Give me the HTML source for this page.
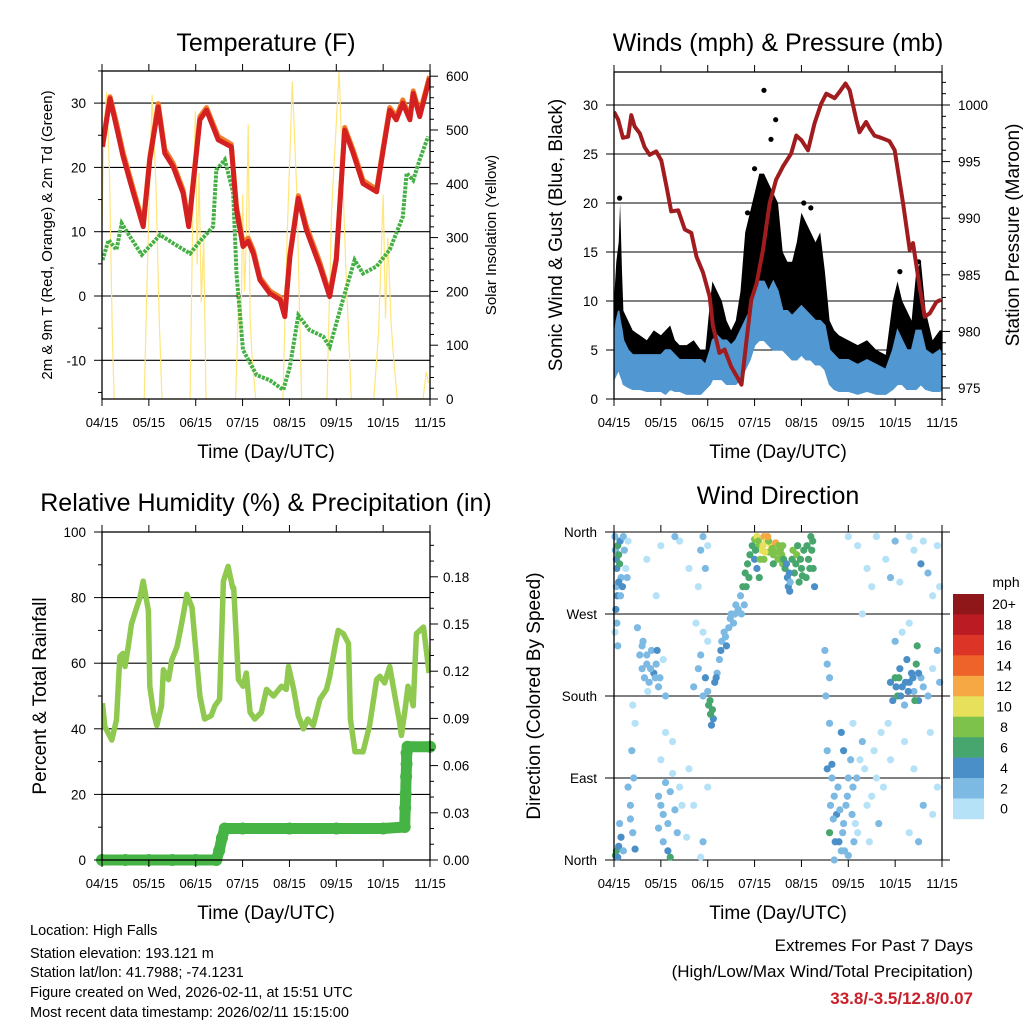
<!DOCTYPE html>
<html><head><meta charset="utf-8"><title>Station Meteogram</title>
<style>
html,body{margin:0;padding:0;background:#fff;}
svg{display:block;font-family:"Liberation Sans",Arial,sans-serif;}
</style></head>
<body>
<svg id="chart" width="1024" height="1024" viewBox="0 0 1024 1024" xmlns="http://www.w3.org/2000/svg">
<rect x="0" y="0" width="1024" height="1024" fill="#fff"/>
<text x="266" y="51" font-size="25" text-anchor="middle">Temperature (F)</text>
<text x="778" y="51" font-size="25" text-anchor="middle">Winds (mph) &amp; Pressure (mb)</text>
<text x="266" y="511" font-size="25" text-anchor="middle">Relative Humidity (%) &amp; Precipitation (in)</text>
<text x="778" y="504" font-size="25" text-anchor="middle">Wind Direction</text>
<text x="266" y="458" font-size="19" text-anchor="middle">Time (Day/UTC)</text>
<text x="778" y="458" font-size="19" text-anchor="middle">Time (Day/UTC)</text>
<text x="266" y="919" font-size="19" text-anchor="middle">Time (Day/UTC)</text>
<text x="778" y="919" font-size="19" text-anchor="middle">Time (Day/UTC)</text>
<text transform="translate(52,235) rotate(-90)" font-size="15" text-anchor="middle">2m &amp; 9m T (Red, Orange) &amp; 2m Td (Green)</text>
<text transform="translate(496,235) rotate(-90)" font-size="15" text-anchor="middle">Solar Insolation (Yellow)</text>
<text transform="translate(562,235) rotate(-90)" font-size="19" text-anchor="middle">Sonic Wind &amp; Gust (Blue, Black)</text>
<text transform="translate(1019,235) rotate(-90)" font-size="19" text-anchor="middle">Station Pressure (Maroon)</text>
<text transform="translate(46,696) rotate(-90)" font-size="19" text-anchor="middle">Percent &amp; Total Rainfall</text>
<text transform="translate(540,696) rotate(-90)" font-size="19" text-anchor="middle">Direction (Colored By Speed)</text>
<g font-size="14.5">
<text x="30" y="935">Location: High Falls</text>
<text x="30" y="958">Station elevation: 193.121 m</text>
<text x="30" y="977">Station lat/lon: 41.7988; -74.1231</text>
<text x="30" y="997">Figure created on Wed, 2026-02-11, at 15:51 UTC</text>
<text x="30" y="1017">Most recent data timestamp: 2026/02/11 15:15:00</text>
</g>
<text x="973" y="951" font-size="17" text-anchor="end">Extremes For Past 7 Days</text>
<text x="973" y="977" font-size="17" text-anchor="end">(High/Low/Max Wind/Total Precipitation)</text>
<text x="973" y="1004" font-size="17" font-weight="bold" fill="#c8202a" text-anchor="end">33.8/-3.5/12.8/0.07</text>
<g id="layer"></g>
</svg>
<script>
// ---- data ----
const monthLabels = ["04/15","05/15","06/15","07/15","08/15","09/15","10/15","11/15"];
const tempT = [0.01,0.17,0.31,0.45,0.67,0.88,1.02,1.20,1.34,1.52,1.73,1.85,1.91,2.09,2.23,2.48,2.76,2.87,3.01,3.12,3.23,3.37,3.58,3.80,3.90,4.01,4.19,4.36,4.65,4.86,5.00,5.18,5.36,5.57,5.86,6.00,6.14,6.28,6.42,6.57,6.64,6.78,6.99];
const tempRed = [23.2,30.7,26.3,21.7,16.0,10.8,21.2,29.4,22.2,20.1,16.0,10.8,14.9,27.4,28.9,24.3,23.2,13.4,7.7,8.5,6.6,2.5,0.4,-0.6,-3.2,6.1,15.2,10.3,4.6,-0.1,5.6,25.8,22.2,17.5,16.2,22.7,28.9,27.4,30.0,27.4,31.5,27.9,33.9];
const tempOrange = [23.6,31.0,26.9,22.3,16.6,11.2,21.6,29.9,22.8,20.6,16.5,11.3,15.3,27.9,29.3,24.8,23.6,13.9,8.3,9.0,7.1,2.9,0.8,-0.2,-2.8,6.5,15.6,10.9,5.2,0.3,6.0,26.2,22.7,18.0,16.6,23.1,29.3,27.9,30.5,27.8,31.9,28.4,34.2];
const dpT = [0.01,0.14,0.31,0.42,0.60,0.85,1.24,1.52,1.88,2.09,2.37,2.44,2.62,2.80,2.87,3.01,3.30,3.58,3.87,4.01,4.19,4.43,4.72,4.86,5.14,5.39,5.57,5.86,6.14,6.42,6.50,6.64,6.78,6.96];
const dpV = [5.6,8.7,7.2,11.3,9.2,6.4,9.5,8.2,6.6,8.5,10.8,19.6,21.2,16.0,3.5,-8.4,-12.3,-13.1,-14.6,-11.0,-3.0,-5.3,-6.3,-7.9,-0.6,5.6,3.5,4.6,7.2,12.3,19.1,18.0,21.2,24.8];
const solT = [0,0.04,0.1,0.16,0.22,0.26, 0.9,0.97,1.07,1.15,1.22,1.28, 1.88,1.93,1.99,2.03,2.07,2.12,2.17,2.22, 2.85,2.92,2.97,3.0,3.04,3.08,3.12,3.16,3.2,3.28, 3.86,3.95,4.06,4.16,4.26, 4.8,4.9,5.06,5.2,5.32, 5.8,5.9,6.0,6.05,6.1,6.17,6.22,6.3, 6.85,6.92,6.97];
const solV = [320,500,570,420,120,0, 0,250,565,400,150,0, 0,300,535,250,420,180,300,0, 0,200,120,380,200,300,510,150,80,0, 0,300,590,380,0, 0,350,610,250,0, 0,120,380,150,300,140,80,0, 0,50,30];
const presT = [0,0.09,0.19,0.30,0.37,0.44,0.55,0.65,0.76,0.90,1.01,1.12,1.22,1.37,1.51,1.65,1.76,1.90,2.04,2.11,2.25,2.36,2.50,2.72,2.82,2.93,3.04,3.18,3.32,3.46,3.61,3.78,3.89,4.00,4.14,4.28,4.42,4.53,4.71,4.82,4.94,5.03,5.17,5.24,5.38,5.46,5.56,5.70,5.88,5.99,6.17,6.31,6.38,6.52,6.63,6.74,6.88,6.98];
const presV = [999.4,998.7,997.1,997.2,999.1,998.1,997.5,996.3,995.6,995.9,995.1,992.8,990.6,990.7,989.0,988.7,986.6,985.2,983.1,980.5,978.1,978.4,976.9,975.3,978.9,982.8,984.2,987.2,991.3,993.4,994.6,995.7,997.3,996.9,996.0,998.4,1000.1,1001.0,1000.6,1001.2,1001.9,1001.3,998.7,997.6,998.5,997.9,997.3,997.1,996.8,996.0,991.3,987.2,987.8,984.0,981.3,981.6,982.6,982.8];
const windT = [0,0.05,0.1,0.13,0.17,0.2,0.3,0.4,0.55,0.7,0.85,1.0,1.1,1.2,1.3,1.4,1.55,1.7,1.85,1.95,2.05,2.1,2.2,2.3,2.4,2.5,2.6,2.7,2.8,2.9,3.0,3.1,3.2,3.3,3.4,3.5,3.6,3.7,3.8,3.9,4.0,4.1,4.2,4.3,4.4,4.5,4.6,4.7,4.8,5.0,5.2,5.4,5.6,5.8,5.95,6.05,6.15,6.25,6.35,6.45,6.55,6.65,6.8,6.95,7.0];
const gustHi = [10,14,16,20,13,9,8,7,6.5,6,7,6.5,7,7.5,6,5.5,5.5,6,5,5,10,12,11,10,8,7,8,11,17,19,21,23,23,22,21,20,15,14,14,16,19,18,17,16,17,13,8,7,6.5,6,5.5,6,5,4.5,10,12,10,9,8,13,14,9,6,7,7];
const spdHi = [6,8,9,8,7,6,5,4.5,4.5,4.5,4.5,4.5,5,5,4.5,4,4,4,4,3.5,5,6,6.5,6,6,5.5,6,7,8,9,11,12,12,11,12,11,9,9,8.5,9,9.5,9,8.5,8,8,7.5,5,4.5,4,4,3.5,4,3.5,3,5,7,6,5,5,7,7,5,4.5,5,4.5];
const spdLo = [2,2.5,3,2.5,2,1.5,1.2,1,1,0.8,0.8,0.8,0.5,1,0.8,0.8,0.5,0.5,0.5,1,1.5,2,2,2,1.5,1.5,1.5,2,3,4,5.5,6,6,5.5,5,5,5,4.5,4,4,4.5,4,4,3.5,3.5,3,1.5,1,0.8,0.8,0.5,0.8,0.5,0.5,1,1.5,1.5,1,1,1,1.5,1,0.8,0.8,1];
const gustDotT = [0.12,3.2,3.45,3.35,3.0,2.85,4.05,4.2,6.5,6.1];
const gustDotV = [20.5,31.5,28.5,26.5,23.5,19,20,19.5,14,13];
const rhT = [0.01,0.06,0.21,0.31,0.38,0.45,0.49,0.56,0.63,0.74,0.81,0.88,0.99,1.02,1.10,1.17,1.27,1.31,1.42,1.49,1.60,1.67,1.75,1.81,1.92,2.09,2.19,2.33,2.41,2.51,2.59,2.69,2.79,2.81,2.91,3.01,3.08,3.16,3.26,3.40,3.51,3.66,3.83,3.93,3.98,4.09,4.19,4.30,4.39,4.51,4.65,4.79,4.86,4.97,5.04,5.15,5.26,5.30,5.40,5.57,5.71,5.86,5.93,6.03,6.14,6.25,6.35,6.39,6.46,6.53,6.64,6.71,6.86,6.98];
const rhV = [47.8,40.7,36.6,42.7,62,63,59,65,72,77,80,85,76,53,45,41,47,58,55,61,65,70,76,81,77,50,43,44,47,49,85,89.5,83,83,55,53,57,45,43,45,52,50,53,52,59,52,44,40,43,41,49,52,56,65,70,69,66,43,33,33,41,55,56,54,59,50,42,38,45,53,47,69,71,57,69,73,69];
const precipT = [0,0.5,1.0,1.5,2.0,2.44,2.5,2.56,2.62,3.0,4.0,5.0,6.0,6.46,6.47,6.48,6.49,6.5,6.5,6.52,7.0];
const precipV = [0,0,0,0,0,0,0.006,0.014,0.02,0.02,0.02,0.02,0.02,0.021,0.033,0.042,0.053,0.061,0.068,0.072,0.072];
const speedLabels = ["20+","18","16","14","12","10","8","6","4","2","0"];
const speedColors = ["#8f1619","#bb1c23","#dc3527","#ee6329","#f6a845","#e6e05b","#7dc24b","#47a66d","#4a8fc7","#7cb9e3","#b6e2f7"];
const dirT = [0.02,0.03,0.05,0.06,0.08,0.1,0.12,0.13,0.15,0.05,0.07,0.04,0.06,0.1,0.14,0.2,0.22,0.25,0.18,0.08,0.02,0.28,0.3,
0.03,0.05,0.08,0.1,0.15,0.2,0.4,0.45,0.12,0.35,0.3,
0.55,0.6,0.65,0.7,0.75,0.8,0.85,0.9,0.95,0.62,0.5,0.72,0.98,1.05,1.1,0.45,0.4,0.38,0.42,0.35,
0.95,1.0,1.05,1.1,1.15,1.2,1.25,1.3,1.35,1.4,1.0,1.1,1.05,1.15,1.2,1.45,1.55,0.95,1.25,
1.7,1.8,1.85,1.9,1.95,2.0,2.05,2.1,2.12,2.15,2.2,2.25,2.3,2.35,2.4,2.45,2.5,2.55,2.6,2.65,1.9,1.75,2.0,1.8,1.85,1.9,1.95,2.0,1.6,1.7,1.85,1.9,2.0,2.08,
2.7,2.75,2.8,2.85,2.9,2.95,2.78,2.72,
3.0,3.05,3.1,3.15,3.2,3.25,3.3,3.35,3.4,3.45,3.5,3.55,3.6,3.65,3.7,3.72,3.75,3.8,3.85,3.9,3.95,4.0,4.05,4.1,4.15,4.2,4.22,4.25,4.28,3.0,3.05,3.1,3.2,3.3,3.6,3.4,
4.5,4.55,4.6,4.52,4.6,4.55,4.65,4.7,4.75,4.6,4.8,4.85,4.9,4.95,5.0,5.05,5.1,5.15,5.2,5.25,5.3,5.35,5.4,5.45,5.5,5.55,5.6,5.65,5.7,5.75,4.85,4.9,4.7,5.0,5.1,4.65,
5.9,5.95,6.0,6.05,6.1,6.15,6.2,6.25,6.3,6.35,6.4,6.45,6.47,6.5,6.55,6.6,6.7,6.8,6.9,6.95,6.0,6.15,6.3,5.85,
5.0,5.2,5.4,5.5,5.6,5.8,5.9,6.0,6.1,6.3,6.4,6.55,6.6,6.7,6.8,6.9,6.95,5.3,6.2,6.4,6.6,6.8,6.9,6.3,6.5,6.75,5.9,1.4,1.0,0.7,1.3,1.6,0.9,
3.02,3.08,3.12,3.18,3.22,3.28,3.38,3.48,3.52,3.58,3.62,3.68,3.74,3.76,3.82,3.88,3.92,3.98,4.02,4.12,4.18,4.24,2.88,2.82,
0.6,0.7,0.78,0.88,0.92,
2.18,2.28,2.38,2.48,2.58,2.02,2.06,
4.55,4.62,4.68,4.72,4.78,4.82,4.88,4.92,4.98,5.08,5.12,5.18,
6.02,6.08,6.12,6.22,6.28,6.38,6.42,6.5];
const dirDeg = [355,340,330,320,345,335,325,350,310,300,290,275,260,305,290,355,340,320,300,235,250,310,350,
5,10,3,15,25,10,30,12,40,60,80,
225,210,200,215,195,230,205,215,190,240,255,185,200,220,180,150,170,120,90,45,
70,60,50,85,40,75,95,55,30,80,110,140,20,10,3,60,25,35,130,
190,210,225,180,200,185,175,165,155,195,205,220,240,250,235,255,270,260,280,275,250,260,240,300,340,355,320,345,100,60,3,20,80,148,
290,300,315,325,335,345,280,270,
352,355,345,340,355,350,338,345,335,348,330,340,325,320,310,300,295,330,315,335,305,320,340,310,330,355,340,320,300,330,320,310,330,350,345,325,
230,215,200,180,150,120,90,70,50,30,20,10,40,60,90,110,80,40,30,110,130,100,60,20,70,120,90,40,140,80,140,120,0,5,150,105,
195,175,200,180,210,190,170,220,195,205,185,215,235,175,200,190,180,210,230,195,240,250,260,150,
355,345,320,300,355,330,310,350,305,355,340,325,350,315,290,345,300,270,130,100,60,50,80,30,20,140,110,350,345,330,355,320,290,
340,350,330,345,338,355,342,338,345,335,330,325,315,305,340,325,345,330,312,345,320,350,310,300,
235,225,210,200,230,
200,230,245,265,270,170,160,
100,60,45,20,80,55,30,10,70,50,20,90,
190,200,180,195,185,200,175,205];
const dirSpd = [3,3,4,5,6,7,6,4,3,3,5,4,3,4,2,2,3,1,4,3,1,3,1,
6,7,4,5,4,3,3,4,3,2,2,
3,2,3,2,3,2,4,3,2,2,2,1,2,1,2,1,1,2,3,2,
3,2,3,2,3,2,1,2,3,1,1,1,3,4,6,1,1,2,1,
2,3,2,3,4,3,6,6,5,4,3,3,2,3,4,3,2,3,2,3,1,1,1,1,2,3,2,1,1,1,1,2,1,5,
3,6,6,7,6,7,3,2,
8,10,9,11,12,10,9,11,8,13,8,9,8,6,4,4,4,7,7,8,6,7,6,7,6,7,6,6,4,4,5,6,8,8,9,7,
2,3,2,3,2,3,2,3,4,6,4,3,3,2,3,2,2,1,1,1,2,1,1,1,1,1,1,2,1,1,4,5,3,2,1,4,
4,5,6,7,5,4,3,4,5,4,3,6,7,4,2,3,2,1,2,3,2,1,1,1,
1,1,1,1,1,1,2,2,1,1,1,4,1,2,1,1,1,1,1,1,2,1,1,1,2,1,1,1,1,1,2,1,1,
7,9,8,10,11,12,9,8,9,8,7,5,4,3,8,7,7,6,6,7,6,7,6,6,
3,3,3,3,4,
4,4,3,3,3,6,7,
4,3,3,4,3,2,2,3,2,2,2,2,
5,6,5,4,4,5,6,5];

// ---- axis functions ----
const MW = 46.86;
const xL = t => 102 + t * MW;
const xR = t => 614 + t * MW;
const yTemp = v => 296 - v * 6.43;
const ySol = v => 399 - v * 0.538;
const ySpd = v => 399 - v * 9.8;
const yPres = p => 388 - (p - 975) * 11.32;
const yRH = v => 860 - v * 3.28;
const yPr = v => 860 - v / 0.03 * 47.2;
const yDir = d => 860 - d * 328 / 360;

const NS = "http://www.w3.org/2000/svg";
const layer = document.getElementById("layer");
function mk(tag, attrs, parent) {
  const el = document.createElementNS(NS, tag);
  for (const k in attrs) el.setAttribute(k, attrs[k]);
  (parent || layer).appendChild(el);
  return el;
}
function pts(T, V, fx, fy) { return T.map((t, i) => fx(t).toFixed(1) + "," + fy(V[i]).toFixed(1)).join(" "); }
function clipFor(id, x, y, w, h) {
  const cp = mk("clipPath", {id: id});
  mk("rect", {x: x, y: y, width: w, height: h}, cp);
}
clipFor("c1", 102, 71, 328, 328);
clipFor("c2", 614, 72, 328, 327);
clipFor("c3", 102, 532, 328, 328);
clipFor("c4", 609, 527, 338, 338);

function grid(x0, x1, ys, name) {
  ys.forEach(y => {
    const g = mk("line", {x1: x0, x2: x1, y1: y, y2: y, stroke: "#000", "stroke-width": 1.1});
    
    
  });
}
function frame(x0, y0, x1, y1, name) {
  const r = mk("rect", {x: x0, y: y0, width: x1 - x0, height: y1 - y0, fill: "none", stroke: "#000", "stroke-width": 1.3});
  
  
}
function xTicks(fx, y0, y1, labY, name) {
  monthLabels.forEach((lab, i) => {
    const x = fx(i);
    mk("line", {x1: x, x2: x, y1: y0, y2: y0 - 7, stroke: "#000", "stroke-width": 1});
    mk("line", {x1: x, x2: x, y1: y1, y2: y1 + 7, stroke: "#000", "stroke-width": 1});
    const tx = mk("text", {x: x, y: labY, "font-size": 13, "text-anchor": "middle"});
    tx.textContent = lab;
    
    
  });
}
function yTicks(vals, fy, x, dir, labels, lx, anchor, name, minorVals) {
  vals.forEach((v, i) => {
    const y = fy(v);
    mk("line", {x1: x, x2: x + dir * 8, y1: y, y2: y, stroke: "#000", "stroke-width": 1});
    const tx = mk("text", {x: lx, y: y + 5, "font-size": 13.5, "text-anchor": anchor});
    tx.textContent = labels[i];
    
    
  });
  (minorVals || []).forEach(v => {
    const y = fy(v);
    mk("line", {x1: x, x2: x + dir * 4, y1: y, y2: y, stroke: "#000", "stroke-width": 1});
  });
}

// ===== Panel 1: Temperature =====
grid(102, 430, [30, 20, 10, 0, -10].map(yTemp), "temp-gridline");
let e;
e = mk("polyline", {points: pts(solT, solV, xL, ySol), fill: "none", stroke: "#ffe57a", "stroke-width": 1.2, "clip-path": "url(#c1)"});


e = mk("polyline", {points: pts(dpT, dpV, xL, yTemp), fill: "none", stroke: "#44b044", "stroke-width": 4, "stroke-dasharray": "3 1.2", "clip-path": "url(#c1)"});


e = mk("polyline", {points: pts(tempT, tempOrange, xL, yTemp), fill: "none", stroke: "#f07b28", "stroke-width": 5, "stroke-linejoin": "round", "clip-path": "url(#c1)"});


e = mk("polyline", {points: pts(tempT, tempRed, xL, yTemp), fill: "none", stroke: "#d42020", "stroke-width": 5, "stroke-linejoin": "round", "clip-path": "url(#c1)"});


frame(102, 71, 430, 399, "temp-plot-frame");
xTicks(xL, 71, 399, 427, "temp-x-tick-label");
yTicks([30, 20, 10, 0, -10], yTemp, 102, -1, ["30", "20", "10", "0", "-10"], 86, "end", "temp-y-tick-label", [35, 25, 15, 5, -5, -15]);
yTicks([600, 500, 400, 300, 200, 100, 0], ySol, 430, 1, ["600", "500", "400", "300", "200", "100", "0"], 446, "start", "solar-tick-label", [20,40,60,80,120,140,160,180,220,240,260,280,320,340,360,380,420,440,460,480,520,540,560,580]);

// ===== Panel 2: Winds & Pressure =====
grid(614, 942, [30, 25, 20, 15, 10, 5].map(ySpd), "wind-gridline");
const gustPoly = windT.map((t, i) => xR(t).toFixed(1) + "," + ySpd(gustHi[i]).toFixed(1)).concat(windT.slice().reverse().map((t, j) => xR(t).toFixed(1) + "," + ySpd(spdHi[windT.length - 1 - j]).toFixed(1))).join(" ");
e = mk("polygon", {points: gustPoly, fill: "#000", stroke: "none", "clip-path": "url(#c2)"});


gustDotT.forEach((t, i) => {
  const d = mk("circle", {cx: xR(t), cy: ySpd(gustDotV[i]), r: 2.6, fill: "#000"});
  
  
});
const spdPoly = windT.map((t, i) => xR(t).toFixed(1) + "," + ySpd(spdHi[i]).toFixed(1)).concat(windT.slice().reverse().map((t, j) => xR(t).toFixed(1) + "," + ySpd(spdLo[windT.length - 1 - j]).toFixed(1))).join(" ");
e = mk("polygon", {points: spdPoly, fill: "#5197d1", stroke: "#5197d1", "stroke-width": 1.5, "clip-path": "url(#c2)"});


e = mk("polyline", {points: pts(presT, presV, xR, yPres), fill: "none", stroke: "#a01c1e", "stroke-width": 4, "stroke-linejoin": "round", "clip-path": "url(#c2)"});


frame(614, 72, 942, 399, "wind-plot-frame");
xTicks(xR, 72, 399, 427, "wind-x-tick-label");
yTicks([30, 25, 20, 15, 10, 5, 0], ySpd, 614, -1, ["30", "25", "20", "15", "10", "5", "0"], 598, "end", "wind-y-tick-label", []);
yTicks([1000, 995, 990, 985, 980, 975], yPres, 942, 1, ["1000", "995", "990", "985", "980", "975"], 958, "start", "pressure-tick-label", [974,976,977,978,979,981,982,983,984,986,987,988,989,991,992,993,994,996,997,998,999,1001,1002]);

// ===== Panel 3: RH & Precip =====
grid(102, 430, [80, 60, 40, 20].map(yRH), "rh-gridline");
e = mk("polyline", {points: pts(rhT, rhV, xL, yRH), fill: "none", stroke: "#8fc94f", "stroke-width": 5.5, "stroke-linejoin": "round", "clip-path": "url(#c3)"});


e = mk("polyline", {points: pts(precipT, precipV, xL, yPr), fill: "none", stroke: "#45b445", "stroke-width": 11, "stroke-linejoin": "round", "stroke-linecap": "round"});


precipT.forEach((t, i) => {
  const d = mk("circle", {cx: xL(t), cy: yPr(precipV[i]), r: 6, fill: "#45b445"});
  
  
});
frame(102, 532, 430, 860, "rh-plot-frame");
xTicks(xL, 532, 860, 888, "rh-x-tick-label");
yTicks([100, 80, 60, 40, 20, 0], yRH, 102, -1, ["100", "80", "60", "40", "20", "0"], 86, "end", "rh-y-tick-label", [90, 70, 50, 30, 10]);
yTicks([0.18, 0.15, 0.12, 0.09, 0.06, 0.03, 0], yPr, 430, 1, ["0.18", "0.15", "0.12", "0.09", "0.06", "0.03", "0.00"], 443, "start", "precip-tick-label", [0.2,0.19,0.17,0.16,0.14,0.13,0.11,0.10,0.08,0.07,0.05,0.04,0.02,0.01]);

// ===== Panel 4: Wind direction =====
grid(605, 950, [360, 270, 180, 90, 0].map(yDir), "dir-gridline");
dirT.forEach((t, i) => {
  const idx = Math.min(10, Math.floor(dirSpd[i] / 2));
  const d = mk("circle", {cx: xR(t), cy: yDir(dirDeg[i]), r: 3.6, fill: speedColors[10 - idx], "clip-path": "url(#c4)"});
  
  
});
e = mk("line", {x1: 614, x2: 614, y1: 532, y2: 860, stroke: "#000", "stroke-width": 1.3});


e = mk("line", {x1: 942, x2: 942, y1: 532, y2: 860, stroke: "#000", "stroke-width": 1.3});


xTicks(xR, 532, 860, 888, "dir-x-tick-label");
yTicks([360, 270, 180, 90, 0], yDir, 614, -1, ["North", "West", "South", "East", "North"], 597, "end", "dir-y-tick-label", []);

// colorbar
const cbTop = 594, cbH = 20.45;
speedLabels.forEach((lab, i) => {
  const r = mk("rect", {x: 953, y: cbTop + i * cbH, width: 31, height: cbH + 0.3, fill: speedColors[i]});
  
  
  const tx = mk("text", {x: 1004, y: cbTop + i * cbH + cbH / 2 + 5, "font-size": 14, "text-anchor": "middle"});
  tx.textContent = lab;
  
  
});
e = mk("text", {x: 1006, y: 587, "font-size": 14, "text-anchor": "middle"});
e.textContent = "mph";


</script>
</body></html>
